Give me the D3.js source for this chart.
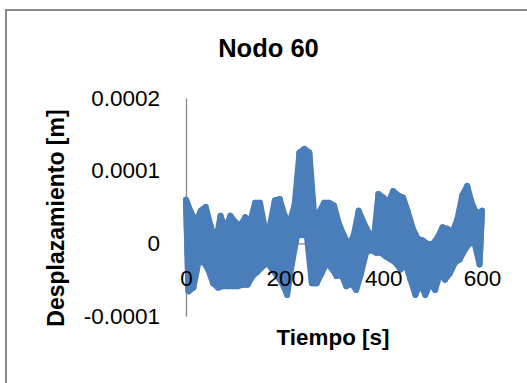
<!DOCTYPE html>
<html>
<head>
<meta charset="utf-8">
<script src="https://cdn.jsdelivr.net/npm/d3@7"></script>
<style>
  html, body { margin: 0; padding: 0; background: #fff; }
  svg { display: block; }
  text { font-family: "Liberation Sans", Arial, sans-serif; fill: #000; }
</style>
</head>
<body>
<svg id="chart" width="527" height="383"></svg>
<script>
// ---- data ----
const chartTitle = "Nodo 60";
const xTitle = "Tiempo [s]";
const yTitle = "Desplazamiento [m]";

// local maxima of the displacement signal, at t = 0, 10, ..., 600 s
const peakTimes = [0,10,20,30,40,50,60,70,80,90,100,110,120,130,140,150,160,170,180,190,200,
  210,220,230,240,250,260,270,280,290,300,310,320,330,340,350,360,370,380,390,400,
  410,420,430,440,450,460,470,480,490,500,510,520,530,540,550,560,570,580,590,600];
const peakValues = [6.0e-5,4.3e-5,2.9e-5,4.5e-5,5.0e-5,2.4e-5,0.1e-5,3.8e-5,2.0e-5,3.8e-5,2.9e-5,
  2.4e-5,3.6e-5,2.9e-5,5.6e-5,5.6e-5,2.0e-5,2.4e-5,5.9e-5,6.1e-5,3.8e-5,
  2.9e-5,5.2e-5,12.5e-5,13.0e-5,12.5e-5,3.8e-5,4.3e-5,5.6e-5,5.6e-5,5.2e-5,
  2.7e-5,1.1e-5,-0.3e-5,1.1e-5,4.5e-5,2.9e-5,1.5e-5,0.1e-5,6.8e-5,6.3e-5,
  5.6e-5,7.2e-5,6.6e-5,6.3e-5,4.3e-5,2.0e-5,0.6e-5,0.4e-5,-0.1e-5,-0.1e-5,
  0.8e-5,2.2e-5,2.0e-5,1.5e-5,3.3e-5,6.6e-5,7.9e-5,5.4e-5,4.0e-5,4.5e-5];

// local minima of the displacement signal, at t = 5, 15, ..., 595 s
const troughTimes = [5,15,25,35,45,55,65,75,85,95,105,115,125,135,145,155,165,175,185,195,
  205,215,225,235,245,255,265,275,285,295,305,315,325,335,345,355,365,375,385,395,
  405,415,425,435,445,455,465,475,485,495,505,515,525,535,545,555,565,575,585,595];
const troughValues = [-6.6e-5,-6.1e-5,-2.7e-5,-2.5e-5,-3.6e-5,-5.5e-5,-6.1e-5,-5.9e-5,-5.9e-5,-5.9e-5,
  -5.9e-5,-5.7e-5,-5.7e-5,-4.5e-5,-3.9e-5,-3.2e-5,-2.7e-5,-3.6e-5,-4.5e-5,-5.5e-5,
  -7.1e-5,-2.7e-5,1.0e-5,1.2e-5,1.0e-5,-5.5e-5,-5.5e-5,-4.1e-5,-2.7e-5,-3.4e-5,
  -4.5e-5,-4.3e-5,-5.9e-5,-5.5e-5,-6.4e-5,-4.1e-5,-1.3e-5,-0.9e-5,-1.3e-5,-1.3e-5,
  -1.8e-5,-2.2e-5,-2.7e-5,-3.6e-5,-2.9e-5,-5.0e-5,-7.1e-5,-5.5e-5,-7.1e-5,-5.5e-5,
  -6.4e-5,-4.1e-5,-5.0e-5,-4.1e-5,-2.7e-5,-2.2e-5,-0.9e-5,0.0e-5,0.0e-5,-2.9e-5];

const xTicks = [0, 200, 400, 600];
const xTickLabels = ["0", "200", "400", "600"];
const yTicks = [-0.0001, 0, 0.0001, 0.0002];
const yTickLabels = ["-0.0001", "0", "0.0001", "0.0002"];

// ---- build the series tables ----
const peaks = peakTimes.map((t, i) => ({ t: t, v: peakValues[i] }));
const troughs = troughTimes.map((t, i) => ({ t: t, v: troughValues[i] }));
const series = peaks.concat(troughs).sort((a, b) => a.t - b.t);
const band = peaks.concat(troughs.slice().reverse());

// ---- drawing ----
const svg = d3.select("#chart");
const plot = { left: 186, right: 482, top: 98, bottom: 316 };

const x = d3.scaleLinear().domain([0, 600]).range([plot.left, plot.right]);
const y = d3.scaleLinear().domain([-0.0001, 0.0002]).range([plot.bottom, plot.top]);

// outer chart frame
svg.append("rect")
  .attr("x", 6).attr("y", 10)
  .attr("width", 540).attr("height", 400)
  .attr("fill", "#fff")
  .attr("stroke", "#898989")
  .attr("stroke-width", 2);

// axis lines (under the series)
const yAxisLine = d3.axisLeft(y).tickValues(yTicks).tickSize(0).tickFormat(() => "");
const xAxisLine = d3.axisBottom(x).tickValues(xTicks).tickSize(0).tickFormat(() => "");
svg.append("g").attr("transform", `translate(${x(0)},0)`).call(yAxisLine)
  .call(g => g.select(".domain").attr("stroke", "#868686").attr("stroke-width", 1.3));
svg.append("g").attr("transform", `translate(0,${y(0)})`).call(xAxisLine)
  .call(g => g.select(".domain").attr("stroke", "#868686").attr("stroke-width", 1.3));

// series: dense oscillation drawn as the band it fills plus the zig-zag trace
const line = d3.line().x(d => x(d.t)).y(d => y(d.v));
svg.append("path")
  .attr("d", line(band) + "Z")
  .attr("fill", "#4a7ebb")
  .attr("stroke", "#4a7ebb")
  .attr("stroke-width", 6)
  .attr("stroke-linejoin", "round");
svg.append("path")
  .datum(series)
  .attr("d", line)
  .attr("fill", "none")
  .attr("stroke", "#4a7ebb")
  .attr("stroke-width", 6)
  .attr("stroke-linejoin", "round")
  .attr("stroke-linecap", "round");

// tick labels (over the series)
const yAxisLabels = d3.axisLeft(y).tickValues(yTicks).tickSize(0).tickPadding(26)
  .tickFormat((d, i) => yTickLabels[i]);
svg.append("g").attr("transform", `translate(${x(0)},0)`).call(yAxisLabels)
  .call(g => g.select(".domain").remove())
  .call(g => g.selectAll("text").attr("font-size", 22.5).attr("font-family", "Liberation Sans, Arial, sans-serif").attr("fill", "#000"));

const xAxisLabels = d3.axisBottom(x).tickValues(xTicks).tickSize(0).tickPadding(27)
  .tickFormat((d, i) => xTickLabels[i]);
svg.append("g").attr("transform", `translate(0,${y(0)})`).call(xAxisLabels)
  .call(g => g.select(".domain").remove())
  .call(g => g.selectAll("text").attr("font-size", 22.5).attr("font-family", "Liberation Sans, Arial, sans-serif").attr("fill", "#000"));

// titles
svg.append("text")
  .attr("x", 268.5).attr("y", 57)
  .attr("text-anchor", "middle")
  .attr("font-size", 25.5).attr("font-weight", "bold")
  .text(chartTitle);

svg.append("text")
  .attr("x", 333).attr("y", 345)
  .attr("text-anchor", "middle")
  .attr("font-size", 22.4).attr("font-weight", "bold")
  .text(xTitle);

svg.append("text")
  .attr("transform", "translate(63.5,218) rotate(-90)")
  .attr("text-anchor", "middle")
  .attr("font-size", 23).attr("font-weight", "bold")
  .text(yTitle);
</script>
</body>
</html>
